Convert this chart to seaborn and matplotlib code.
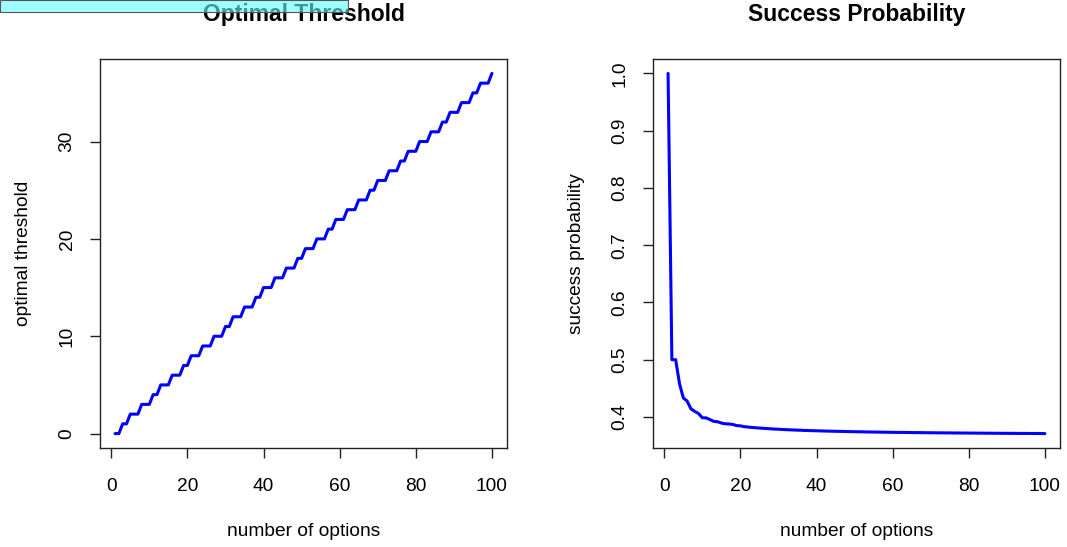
import matplotlib
matplotlib.use("Agg")
import matplotlib.pyplot as plt
import seaborn as sns
import pandas as pd
from matplotlib.patches import Rectangle

# ---- data ----
n_options = list(range(1, 101))
thresholds = [0, 0, 1, 1, 2, 2, 2, 3, 3, 3,
              4, 4, 5, 5, 5, 6, 6, 6, 7, 7,
              8, 8, 8, 9, 9, 9, 10, 10, 10, 11,
              11, 12, 12, 12, 13, 13, 13, 14, 14, 15,
              15, 15, 16, 16, 16, 17, 17, 17, 18, 18,
              19, 19, 19, 20, 20, 20, 21, 21, 22, 22,
              22, 23, 23, 23, 24, 24, 24, 25, 25, 26,
              26, 26, 27, 27, 27, 28, 28, 29, 29, 29,
              30, 30, 30, 31, 31, 31, 32, 32, 33, 33,
              33, 34, 34, 34, 35, 35, 36, 36, 36, 37]
success_prob = [1.0, 0.5, 0.5, 0.4583, 0.4333, 0.4278, 0.4143, 0.4098, 0.4060, 0.3987,
                0.3984, 0.3955, 0.3923, 0.3917, 0.3894, 0.3881, 0.3878, 0.3870, 0.3850, 0.3845,
                0.3831, 0.3824, 0.3818, 0.3812, 0.3807, 0.3802, 0.3798, 0.3793, 0.3789, 0.3786,
                0.3782, 0.3779, 0.3776, 0.3773, 0.3770, 0.3768, 0.3765, 0.3763, 0.3761, 0.3759,
                0.3757, 0.3755, 0.3753, 0.3752, 0.3750, 0.3749, 0.3747, 0.3746, 0.3744, 0.3743,
                0.3742, 0.3741, 0.3739, 0.3738, 0.3737, 0.3736, 0.3735, 0.3734, 0.3733, 0.3732,
                0.3731, 0.3731, 0.3730, 0.3729, 0.3728, 0.3727, 0.3727, 0.3726, 0.3725, 0.3725,
                0.3724, 0.3723, 0.3723, 0.3722, 0.3722, 0.3721, 0.3721, 0.3720, 0.3720, 0.3719,
                0.3719, 0.3718, 0.3718, 0.3717, 0.3717, 0.3716, 0.3716, 0.3715, 0.3715, 0.3715,
                0.3714, 0.3714, 0.3713, 0.3713, 0.3713, 0.3712, 0.3712, 0.3712, 0.3711, 0.3710]
x_ticks = [0, 20, 40, 60, 80, 100]
left_yticks = [0, 10, 20, 30]
right_yticks = [0.4, 0.5, 0.6, 0.7, 0.8, 0.9, 1.0]
right_yticklabels = ["0.4", "0.5", "0.6", "0.7", "0.8", "0.9", "1.0"]

df = pd.DataFrame({"n": n_options, "thr": thresholds, "p": success_prob})

sns.set_style("white")
plt.rcParams["font.family"] = ["Liberation Sans", "DejaVu Sans"]
plt.rcParams["text.color"] = "black"
plt.rcParams["axes.labelcolor"] = "black"

W, H = 1067, 547
fig = plt.figure(figsize=(W / 100, H / 100), dpi=100)

def px_axes(x0, x1, y0, y1):
    return fig.add_axes([x0 / W, 1 - y1 / H, (x1 - x0) / W, (y1 - y0) / H])

ax1 = px_axes(100, 507, 59, 448)
ax2 = px_axes(653, 1060, 59, 448)

sns.lineplot(data=df, x="n", y="thr", ax=ax1, color="#0000ff", linewidth=2.2)
sns.lineplot(data=df, x="n", y="p", ax=ax2, color="#0000ff", linewidth=2.2)

def style(ax, title, ylabel, yticks, yticklabels, ylo, yhi):
    ax.set_xlim(1 - 0.04 * 99, 100 + 0.04 * 99)
    r = yhi - ylo
    ax.set_ylim(ylo - 0.04 * r, yhi + 0.04 * r)
    ax.set_xticks(x_ticks)
    ax.set_xticklabels([str(v) for v in x_ticks])
    ax.set_yticks(yticks)
    ax.set_yticklabels(yticklabels, rotation=90, va="center")
    ax.tick_params(axis="both", direction="out", length=7.5, width=1,
                   color="#222222", labelsize=13.75, labelcolor="black",
                   bottom=True, left=True, top=False, right=False)
    ax.tick_params(axis="x", pad=14)
    ax.tick_params(axis="y", pad=10)
    for s in ax.spines.values():
        s.set_visible(True)
        s.set_color("#222222")
        s.set_linewidth(1.0)
    ax.set_xlabel("number of options", fontsize=13.75, labelpad=20, color="black")
    ax.set_ylabel(ylabel, fontsize=13.75, labelpad=19, color="black")
    ax.set_title(title, fontsize=16.5, fontweight="bold", pad=27, color="black")
    ax.grid(False)

style(ax1, "Optimal Threshold", "optimal threshold", left_yticks,
      [str(v) for v in left_yticks], 0, 37)
style(ax2, "Success Probability", "success probability", right_yticks,
      right_yticklabels, 0.3710, 1.0)

# translucent cyan overlay box at top-left
fig.patches.append(Rectangle((0, 1 - 12 / H), 348 / W, 12 / H, transform=fig.transFigure,
                             facecolor=(0.38, 1.0, 1.0, 0.6), edgecolor="#555555",
                             linewidth=0.8, zorder=10))

fig.savefig("out.png", dpi=100)
